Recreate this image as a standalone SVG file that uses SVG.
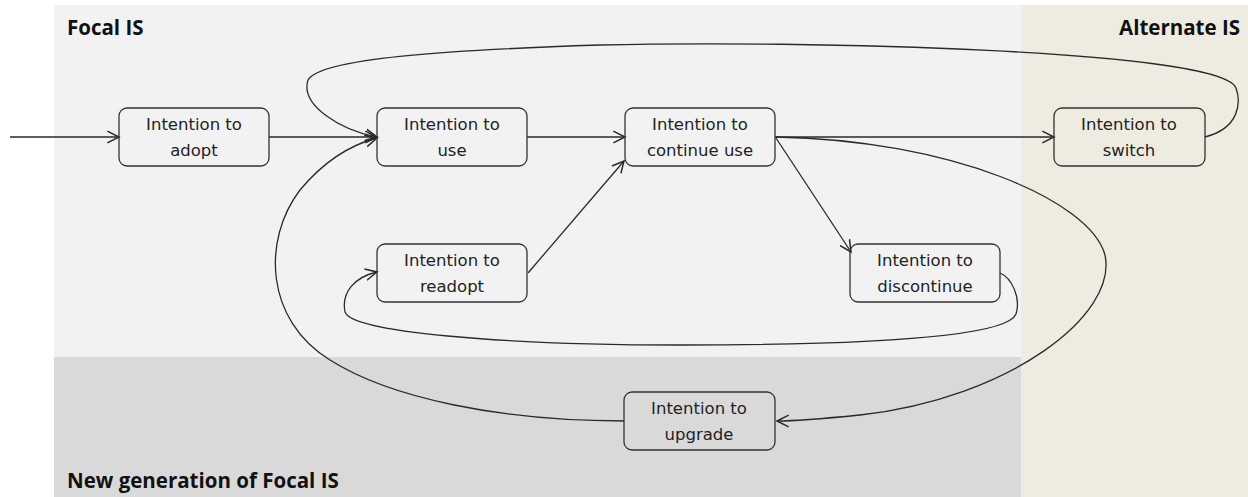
<svg xmlns="http://www.w3.org/2000/svg" width="1248" height="497" viewBox="0 0 1248 497">
<defs>
<style>
.node rect{fill:none;stroke:#333;stroke-width:1.3}
.node text{font-family:"DejaVu Sans",sans-serif;font-size:16.5px;fill:#222;text-anchor:middle}
.title{font-family:"Open Sans","Liberation Sans",sans-serif;font-weight:bold;font-size:20.5px;fill:#111}
#connectors path{fill:none;stroke:#2a2a2a;stroke-width:1.3;marker-end:url(#arr)}
</style>
<marker id="arr" markerUnits="userSpaceOnUse" markerWidth="14" markerHeight="14" refX="10" refY="5" orient="auto" viewBox="0 0 12 10">
<path d="M0,0 L10,5 L0,10" fill="none" stroke="#2a2a2a" stroke-width="1.3"/>
</marker>
</defs>
<rect x="0" y="0" width="1248" height="497" fill="#fff"/>
<g id="regions">
<rect x="54" y="5" width="967" height="352" fill="#f2f2f2"/>
<rect x="54" y="357" width="967" height="140" fill="#d9d9d9"/>
<rect x="1021" y="5" width="227" height="492" fill="#eeebe1"/>
<text class="title" x="67" y="35">Focal IS</text>
<text class="title" x="1240" y="35" text-anchor="end">Alternate IS</text>
<text class="title" x="67" y="488">New generation of Focal IS</text>
</g>
<g id="connectors">
<path d="M10,137 L119,137"/>
<path d="M269,137 L377,137"/>
<path d="M527,137 L625,137"/>
<path d="M775,137 L1054,137"/>
<path d="M1205,137 C1240,128 1241,102 1236,88 C1222,50 800,40 600,45 C450,50 320,58 308,80 C300,105 340,130 377,137"/>
<path d="M776,138 L851,252"/>
<path d="M528,273 L624,161"/>
<path d="M1000,273 C1012,278 1021,298 1016,314 C1008,334 900,345 680,345 C500,345 352,332 345,312 C341,292 355,277 377,272"/>
<path d="M776,137 C950,140 1090,200 1105,255 C1118,315 1010,398 860,415 C820,419 795,421 777,421"/>
<path d="M624,421 C500,421 390,398 330,360 C265,320 262,240 300,190 C325,160 350,145 377,138"/>
</g>
<g id="adopt" class="node"><rect x="119" y="108" width="150" height="58" rx="8"/><text x="194" y="130">Intention to</text><text x="194" y="156">adopt</text></g>
<g id="use" class="node"><rect x="377" y="108" width="150" height="58" rx="8"/><text x="452" y="130">Intention to</text><text x="452" y="156">use</text></g>
<g id="continue" class="node"><rect x="625" y="108" width="150" height="58" rx="8"/><text x="700" y="130">Intention to</text><text x="700" y="156">continue use</text></g>
<g id="switch" class="node"><rect x="1054" y="108" width="151" height="58" rx="8"/><text x="1129" y="130">Intention to</text><text x="1129" y="156">switch</text></g>
<g id="readopt" class="node"><rect x="377" y="244" width="150" height="58" rx="8"/><text x="452" y="266">Intention to</text><text x="452" y="292">readopt</text></g>
<g id="discontinue" class="node"><rect x="850" y="244" width="150" height="58" rx="8"/><text x="925" y="266">Intention to</text><text x="925" y="292">discontinue</text></g>
<g id="upgrade" class="node"><rect x="624" y="392" width="151" height="58" rx="8"/><text x="699" y="414">Intention to</text><text x="699" y="440">upgrade</text></g>
</svg>
